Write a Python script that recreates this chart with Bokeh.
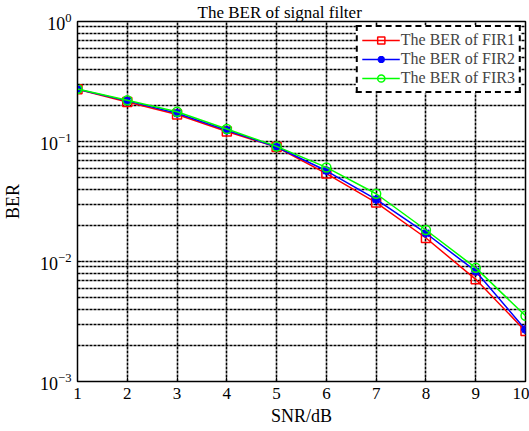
from bokeh.plotting import figure
from bokeh.models import Range1d, FixedTicker, Legend, LegendItem
from bokeh.embed import file_html
from bokeh.resources import INLINE

snr = [1, 2, 3, 4, 5, 6, 7, 8, 9, 10]
ber_fir1 = [0.272, 0.213, 0.168, 0.121, 0.090, 0.054, 0.031, 0.0157, 0.0071, 0.00263]
ber_fir2 = [0.272, 0.218, 0.172, 0.124, 0.090, 0.057, 0.0329, 0.0172, 0.0083, 0.00271]
ber_fir3 = [0.274, 0.221, 0.177, 0.127, 0.091, 0.0608, 0.0367, 0.0183, 0.00885, 0.00353]
labels = ["The BER of FIR1", "The BER of FIR2", "The BER of FIR3"]
title_text = "The BER of signal filter"
decades = [-3, -2, -1, 0]
x_ticks = [1, 2, 3, 4, 5, 6, 7, 8, 9, 10]

FONT = "Liberation Serif"

p = figure(width=529, height=431, y_axis_type="log",
           x_range=Range1d(1, 10), y_range=Range1d(1e-3, 1),
           output_backend="svg", toolbar_location=None,
           min_border_left=75, min_border_right=4,
           min_border_bottom=50, min_border_top=0)

p.title.text = title_text
p.title.text_font = FONT
p.title.text_font_size = "17px"
p.title.text_font_style = "normal"
p.title.text_color = "black"
p.title.align = "left"
p.title.offset = 120
p.title.standoff = 0

major = [10.0 ** d for d in decades]
minor = [k * 10.0 ** d for d in decades[:-1] for k in range(2, 10)]
p.yaxis.ticker = FixedTicker(ticks=major, minor_ticks=minor)
p.xaxis.ticker = FixedTicker(ticks=x_ticks)

for ax in (p.xaxis, p.yaxis):
    ax.major_label_text_font = FONT
    ax.major_label_text_color = "black"
    ax.axis_label_text_font = FONT
    ax.axis_label_text_font_size = "18px"
    ax.axis_label_text_font_style = "normal"
    ax.axis_label_text_color = "black"
    ax.axis_line_color = "black"
    ax.major_tick_in = 4
    ax.major_tick_out = 0
    ax.minor_tick_in = 2
    ax.minor_tick_out = 0
    ax.major_label_standoff = 6
p.xaxis.major_label_text_font_size = "17px"
p.yaxis.major_label_text_font_size = "18px"
p.xaxis.minor_tick_line_color = None
p.xaxis.axis_label = "SNR/dB"
p.yaxis.axis_label = "BER"
p.xaxis.axis_label_standoff = 4
p.yaxis.axis_label_standoff = 14

for g in (p.xgrid, p.ygrid):
    g.grid_line_color = "black"
    g.grid_line_width = 1.6
    g.grid_line_dash = "3 1"
    g.grid_line_alpha = 1
p.ygrid.minor_grid_line_color = "black"
p.ygrid.minor_grid_line_width = 1.6
p.ygrid.minor_grid_line_dash = "3 1"

p.outline_line_color = "black"
p.outline_line_width = 1.5

r1l = p.line(snr, ber_fir1, line_color="red", line_width=1.5)
r1m = p.scatter(snr, ber_fir1, marker="square", size=9, line_color="red",
                fill_alpha=0, line_width=1.5)
r2l = p.line(snr, ber_fir2, line_color="blue", line_width=1.5)
r2m = p.scatter(snr, ber_fir2, marker="asterisk", size=9, line_color="blue",
                line_width=2.5)
r3l = p.line(snr, ber_fir3, line_color="#00ff00", line_width=1.5)
r3m = p.scatter(snr, ber_fir3, marker="circle", size=9, line_color="#00ff00",
                fill_alpha=0, line_width=1.5)

legend = Legend(items=[
    LegendItem(label=labels[0], renderers=[r1l, r1m]),
    LegendItem(label=labels[1], renderers=[r2l, r2m]),
    LegendItem(label=labels[2], renderers=[r3l, r3m]),
], location="top_right")
legend.margin = 4
legend.padding = 4
legend.spacing = 1
legend.label_text_font = FONT
legend.label_text_font_size = "16px"
legend.label_height = 18
legend.glyph_height = 18
legend.glyph_width = 38
legend.label_standoff = 1
legend.border_line_color = "black"
legend.border_line_alpha = 1
legend.border_line_width = 2
legend.border_line_dash = "3 1"
legend.background_fill_color = "white"
legend.background_fill_alpha = 1
p.add_layout(legend)

open("out.html", "w").write(file_html(p, INLINE))
